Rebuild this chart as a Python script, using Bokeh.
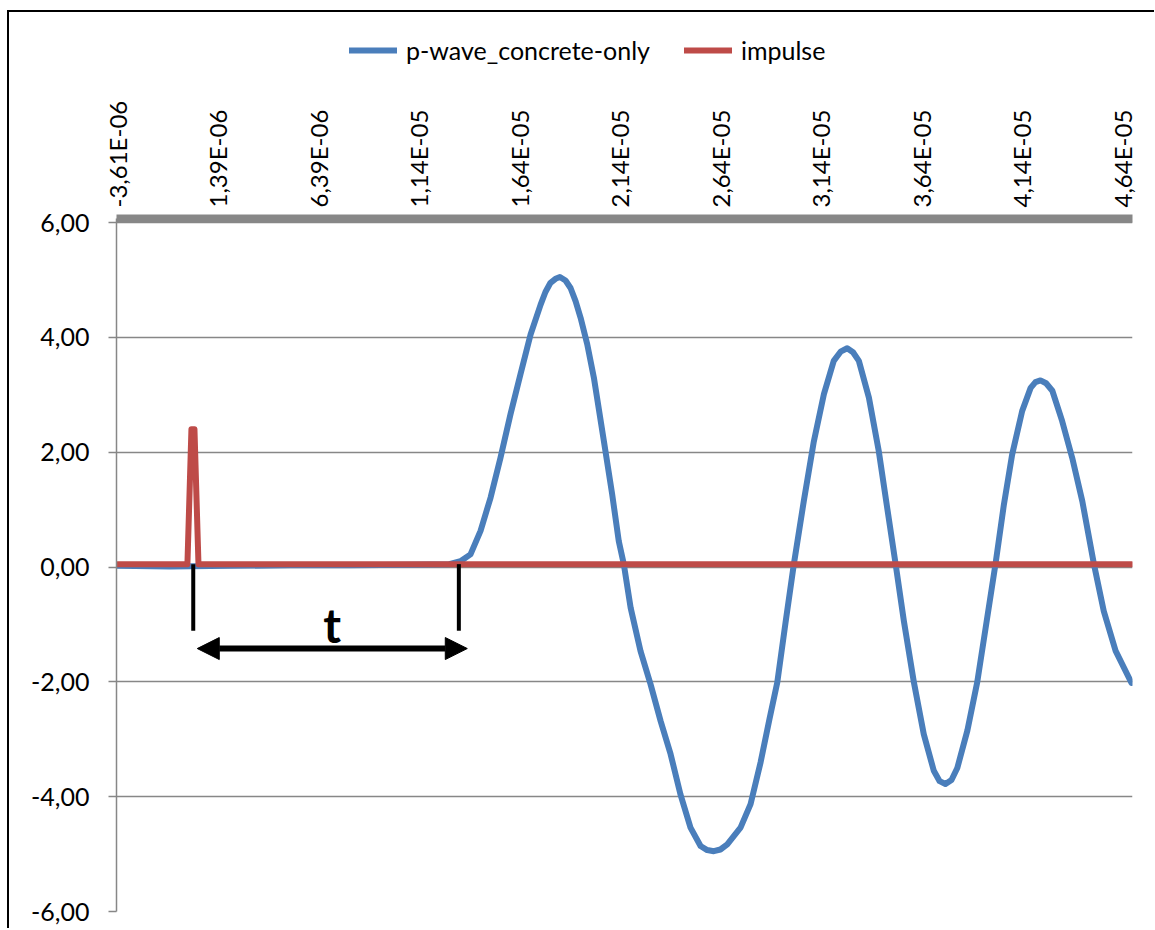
import math
from bokeh.plotting import figure
from bokeh.layouts import column
from bokeh.models import Range1d, FixedTicker, Legend, LegendItem, Arrow, NormalHead
from bokeh.core.properties import value
from bokeh.embed import file_html
from bokeh.resources import INLINE

# ---- data (time in microseconds) ----
wave_t = [-3.61, -1.0, 2.0, 5.0, 8.0, 11.0, 12.9, 13.46, 13.96, 14.46, 14.96, 15.45, 15.95,
          16.45, 16.95, 17.45, 17.69, 17.94, 18.19, 18.41, 18.69, 18.94, 19.19, 19.44, 19.77,
          20.10, 20.60, 21.01, 21.34,
          21.59, 21.93, 22.42, 22.92, 23.42, 23.92, 24.41, 24.91, 25.41, 25.74, 26.07, 26.40,
          26.74, 27.40,
          27.90, 28.40, 28.84, 29.23, 29.64, 30.05, 30.55, 31.05, 31.55, 32.04, 32.38, 32.71,
          33.00, 33.29,
          33.79, 34.28, 34.70, 35.12, 35.53, 36.03, 36.52, 37.02, 37.31, 37.60, 37.90, 38.19,
          38.69, 39.18,
          39.60, 40.09, 40.51, 40.92, 41.42, 41.84, 42.08, 42.33, 42.61, 42.92, 43.41, 43.91,
          44.41, 44.99, 45.48, 46.07, 46.86]
wave_v = [0.02, 0.01, 0.02, 0.03, 0.03, 0.04, 0.05, 0.10, 0.22, 0.63, 1.21, 1.90, 2.66,
          3.36, 4.05, 4.57, 4.79, 4.95, 5.02, 5.05, 4.99, 4.86, 4.63, 4.34, 3.88,
          3.30, 2.19, 1.27, 0.45,
          0.05, -0.71, -1.46, -2.04, -2.68, -3.26, -3.96, -4.54, -4.86, -4.93, -4.95, -4.92,
          -4.83, -4.54,
          -4.13, -3.40, -2.65, -2.01, -0.97, 0.04, 1.15, 2.19, 3.01, 3.59, 3.75, 3.81,
          3.74, 3.59,
          2.95, 2.02, 1.03, 0.05, -0.94, -2.01, -2.91, -3.55, -3.73, -3.78, -3.71, -3.50,
          -2.85, -2.01,
          -1.06, 0.05, 1.09, 1.96, 2.72, 3.12, 3.22, 3.25, 3.20, 3.07, 2.54, 1.90,
          1.15, 0.05, -0.77, -1.46, -2.02]

impulse_t = [-3.61, -0.13, 0.07, 0.22, 0.42, 46.86]
impulse_v = [0.05, 0.05, 2.40, 2.40, 0.05, 0.05]

series_names = ["p-wave_concrete-only", "impulse"]
series_colors = ["#4a7ebb", "#be4b48"]

x_tick_vals = [-3.61, 1.39, 6.39, 11.39, 16.39, 21.39, 26.39, 31.39, 36.39, 41.39, 46.39]
x_tick_labels = ["-3,61E-06", "1,39E-06", "6,39E-06", "1,14E-05", "1,64E-05", "2,14E-05",
                 "2,64E-05", "3,14E-05", "3,64E-05", "4,14E-05", "4,64E-05"]
y_tick_vals = [-6, -4, -2, 0, 2, 4, 6]
y_tick_labels = ["-6,00", "-4,00", "-2,00", "0,00", "2,00", "4,00", "6,00"]

# travel-time annotation
marker_t = [0.16, 13.38]
marker_top = [0.05, 0.05]
marker_bottom = [-1.11, -1.11]
arrow_t = [0.36, 13.80]
arrow_v = -1.42
t_label_x = [7.08]
t_label_y = [-1.0]
t_label_text = ["t"]

FONT = "Lato"
GRID = "#878787"
W = 1145
NAN = float("nan")

# ---------- legend strip ----------
leg = figure(width=W, height=68, x_range=Range1d(0, 1), y_range=Range1d(0, 1),
             x_axis_location=None, y_axis_location=None, output_backend="svg",
             toolbar_location=None, min_border=0)
leg.outline_line_color = None
leg.xgrid.visible = False
leg.ygrid.visible = False
lr_wave = leg.line([NAN], [NAN], line_width=6, line_color=series_colors[0], line_cap="round")
lr_imp = leg.line([NAN], [NAN], line_width=6, line_color=series_colors[1], line_cap="round")
legend = Legend(items=[LegendItem(label=series_names[0], renderers=[lr_wave]),
                       LegendItem(label=series_names[1], renderers=[lr_imp])],
                location=(233, 15), orientation="horizontal",
                glyph_width=48, glyph_height=24, label_height=24, label_standoff=9, spacing=34,
                padding=0, margin=0, border_line_color=None, background_fill_alpha=0,
                label_text_font=FONT, label_text_font_size="25px", label_text_color="black")
leg.add_layout(legend)

# ---------- main chart ----------
p = figure(width=W, height=848,
           x_range=Range1d(-3.66, 46.91), y_range=Range1d(-6, 6.07),
           x_axis_location="above", output_backend="svg", toolbar_location=None,
           min_border_left=107, min_border_top=138, min_border_right=22, min_border_bottom=17)
p.outline_line_color = None
p.background_fill_color = "white"
p.border_fill_color = "white"

p.xgrid.visible = False
p.ygrid.ticker = FixedTicker(ticks=y_tick_vals)
p.ygrid.grid_line_color = GRID
p.ygrid.grid_line_width = 1.5

ya = p.yaxis[0]
ya.ticker = FixedTicker(ticks=y_tick_vals)
ya.major_label_overrides = dict(zip(y_tick_vals, y_tick_labels))
ya.axis_line_color = GRID
ya.axis_line_width = 1.5
ya.major_tick_line_color = GRID
ya.major_tick_line_width = 1.5
ya.major_tick_out = 8
ya.major_tick_in = 0
ya.minor_tick_line_color = None
ya.major_label_text_font = FONT
ya.major_label_text_font_size = "25px"
ya.major_label_text_color = "black"
ya.major_label_standoff = 19

xa = p.xaxis[0]
xa.ticker = FixedTicker(ticks=x_tick_vals)
xa.major_label_overrides = dict(zip(x_tick_vals, x_tick_labels))
xa.axis_line_color = GRID
xa.axis_line_width = 8
xa.major_tick_line_color = None
xa.minor_tick_line_color = None
xa.major_tick_out = 0
xa.major_tick_in = 0
xa.major_label_orientation = math.pi / 2
xa.major_label_text_font = FONT
xa.major_label_text_font_size = "24px"
xa.major_label_text_color = "black"
xa.major_label_standoff = 11

p.line(wave_t, wave_v, line_width=6, line_color=series_colors[0],
       line_join="round", line_cap="round")
p.line(impulse_t, impulse_v, line_width=6, line_color=series_colors[1],
       line_join="round", line_cap="round")

p.segment(x0=marker_t, y0=marker_top, x1=marker_t, y1=marker_bottom,
          line_color="black", line_width=4)
p.add_layout(Arrow(start=NormalHead(size=22, fill_color="black", line_color="black"),
                   end=NormalHead(size=22, fill_color="black", line_color="black"),
                   x_start=arrow_t[0], y_start=arrow_v, x_end=arrow_t[1], y_end=arrow_v,
                   line_color="black", line_width=6))
p.text(x=t_label_x, y=t_label_y, text=t_label_text, text_font=value(FONT),
       text_font_style="bold", text_font_size="48px", text_align="center",
       text_baseline="middle", text_color="black")

layout = column(leg, p, spacing=0)
layout.styles = {"border-left": "2px solid #000", "border-top": "2px solid #000",
                 "margin-top": "10px", "margin-left": "7px"}

open("out.html", "w").write(file_html(layout, INLINE))
